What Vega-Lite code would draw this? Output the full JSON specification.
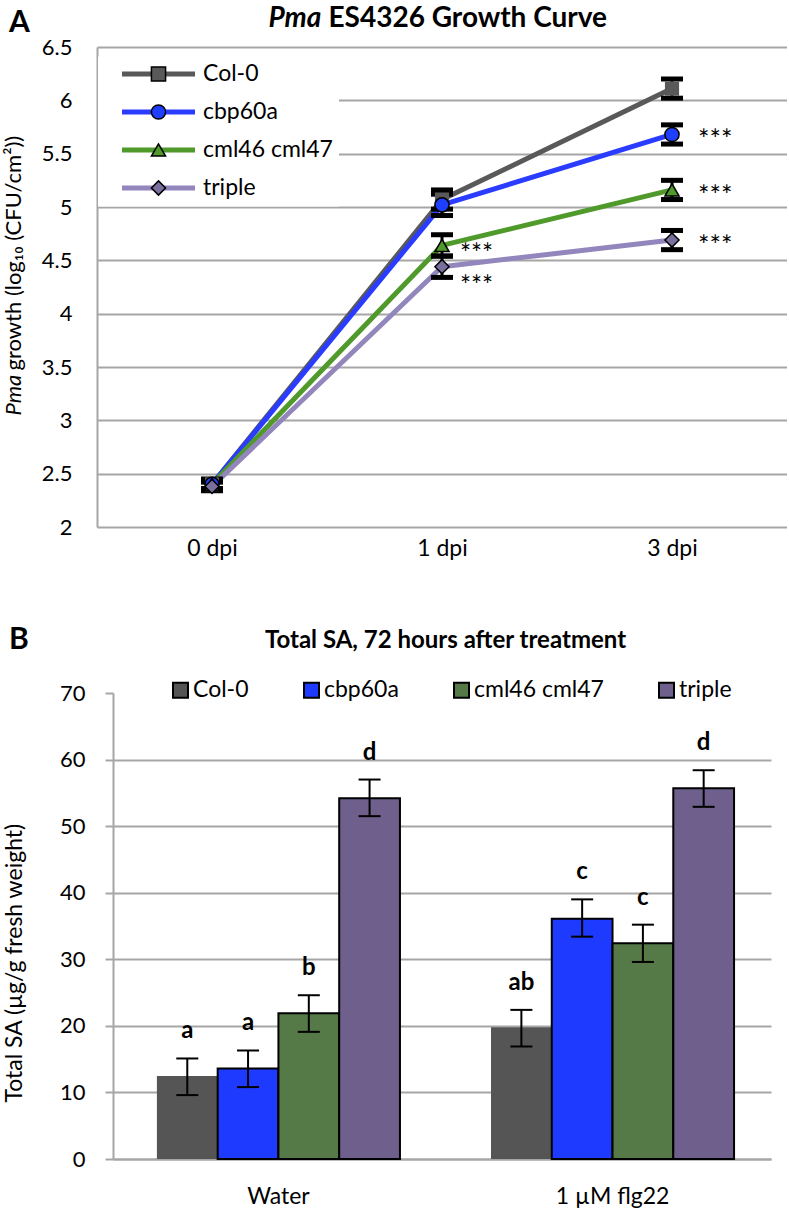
{
  "$schema": "https://vega.github.io/schema/vega-lite/v6.json",
  "background": "white",
  "padding": {"left": 2, "top": 4, "right": 0, "bottom": 0},
  "config": {
    "font": "Lato",
    "view": {"stroke": null},
    "axis": {"labelFont": "Lato", "titleFont": "Lato", "labelColor": "#000000", "titleColor": "#000000", "domainColor": "#a6a6a6", "gridColor": "#a6a6a6", "tickColor": "#a6a6a6", "domainWidth": 2, "gridWidth": 2, "tickWidth": 2},
    "legend": {"labelFont": "Lato", "labelColor": "#000000"},
    "title": {"font": "Lato", "color": "#000000"}
  },
  "datasets": {
    "growth": [
      {"genotype": "Col-0", "dpi": "0 dpi", "mean": 2.40, "lo": 2.35, "hi": 2.45, "sig": ""},
      {"genotype": "Col-0", "dpi": "1 dpi", "mean": 5.07, "lo": 4.98, "hi": 5.16, "sig": ""},
      {"genotype": "Col-0", "dpi": "3 dpi", "mean": 6.11, "lo": 6.02, "hi": 6.20, "sig": ""},
      {"genotype": "cbp60a", "dpi": "0 dpi", "mean": 2.40, "lo": 2.36, "hi": 2.44, "sig": ""},
      {"genotype": "cbp60a", "dpi": "1 dpi", "mean": 5.02, "lo": 4.92, "hi": 5.12, "sig": ""},
      {"genotype": "cbp60a", "dpi": "3 dpi", "mean": 5.68, "lo": 5.59, "hi": 5.77, "sig": "***"},
      {"genotype": "cml46 cml47", "dpi": "0 dpi", "mean": 2.40, "lo": 2.36, "hi": 2.44, "sig": ""},
      {"genotype": "cml46 cml47", "dpi": "1 dpi", "mean": 4.64, "lo": 4.54, "hi": 4.74, "sig": "***"},
      {"genotype": "cml46 cml47", "dpi": "3 dpi", "mean": 5.16, "lo": 5.07, "hi": 5.25, "sig": "***"},
      {"genotype": "triple", "dpi": "0 dpi", "mean": 2.38, "lo": 2.34, "hi": 2.42, "sig": ""},
      {"genotype": "triple", "dpi": "1 dpi", "mean": 4.44, "lo": 4.34, "hi": 4.54, "sig": "***"},
      {"genotype": "triple", "dpi": "3 dpi", "mean": 4.69, "lo": 4.60, "hi": 4.78, "sig": "***"}
    ],
    "sa": [
      {"treatment": "Water", "genotype": "Col-0", "mean": 12.45, "lo": 9.6, "hi": 15.1, "letter": "a"},
      {"treatment": "Water", "genotype": "cbp60a", "mean": 13.6, "lo": 10.8, "hi": 16.3, "letter": "a"},
      {"treatment": "Water", "genotype": "cml46 cml47", "mean": 21.9, "lo": 19.1, "hi": 24.6, "letter": "b"},
      {"treatment": "Water", "genotype": "triple", "mean": 54.2, "lo": 51.5, "hi": 57.0, "letter": "d"},
      {"treatment": "1 µM flg22", "genotype": "Col-0", "mean": 19.8, "lo": 16.9, "hi": 22.4, "letter": "ab"},
      {"treatment": "1 µM flg22", "genotype": "cbp60a", "mean": 36.1, "lo": 33.4, "hi": 39.0, "letter": "c"},
      {"treatment": "1 µM flg22", "genotype": "cml46 cml47", "mean": 32.4, "lo": 29.6, "hi": 35.2, "letter": "c"},
      {"treatment": "1 µM flg22", "genotype": "triple", "mean": 55.7, "lo": 52.9, "hi": 58.4, "letter": "d"}
    ]
  },
  "resolve": {"scale": {"color": "independent", "fill": "independent", "shape": "independent"}, "legend": {"color": "independent", "fill": "independent", "shape": "independent"}},
  "bounds": "flush",
  "center": true,
  "spacing": 166,
  "vconcat": [
    {
      "title": {"text": "A", "anchor": "start", "frame": "bounds", "fontSize": 30, "fontWeight": "bold", "offset": -34, "dx": 7},
      "width": 690,
      "height": 480,
      "data": {"name": "growth"},
      "layer": [
        {
          "mark": {"type": "line", "strokeWidth": 5, "strokeJoin": "round"},
          "encoding": {
            "x": {"field": "dpi", "type": "nominal", "sort": ["0 dpi", "1 dpi", "3 dpi"], "scale": {"type": "point", "padding": 0.5},
              "axis": {"orient": "bottom", "labelAngle": 0, "labelFontSize": 23, "labelPadding": 10, "ticks": false, "domain": false, "grid": false,
                "title": "ES4326 Growth Curve", "titleFontSize": 28, "titleFontWeight": "bold", "titleAlign": "left", "titleBaseline": "middle", "titleX": 231, "titleY": -509}},
            "y": {"field": "mean", "type": "quantitative", "scale": {"domain": [2, 6.5], "nice": false, "zero": false},
              "axis": {"orient": "left", "values": [2, 2.5, 3, 3.5, 4, 4.5, 5, 5.5, 6, 6.5], "format": "~g", "labelFontSize": 22, "labelPadding": 25, "ticks": false, "domain": true, "grid": true,
                "title": "growth (log₁₀ (CFU/cm²))", "titleFontSize": 22, "titleFontWeight": "normal", "titleAngle": 270, "titleAlign": "left", "titleBaseline": "middle", "titleX": -84, "titleY": 323}},
            "color": {"field": "genotype", "type": "nominal",
              "scale": {"domain": ["Col-0", "cbp60a", "cml46 cml47", "triple"], "range": ["#595959", "#2a3cff", "#4f9a2b", "#9386bd"]},
              "legend": {"orient": "none", "legendX": 1, "legendY": 9.5, "direction": "vertical", "title": null, "symbolType": "M-7.3,0H7.3", "symbolSize": 100, "symbolStrokeWidth": 5, "symbolOffset": 43, "labelOffset": 33, "labelFontSize": 23, "rowPadding": 14, "padding": 6, "fillColor": "white"}}
          }
        },
        {
          "mark": {"type": "rule", "color": "black", "strokeWidth": 3},
          "encoding": {
            "x": {"field": "dpi", "type": "nominal", "sort": ["0 dpi", "1 dpi", "3 dpi"],
              "axis": {"orient": "top", "labels": false, "ticks": false, "domain": false, "grid": false, "title": "Pma", "titleFontSize": 28, "titleFontWeight": "bold", "titleFontStyle": "italic", "titleAlign": "left", "titleBaseline": "middle", "titleX": 171, "titleY": -29}},
            "y": {"field": "lo", "type": "quantitative", "scale": {"domain": [2, 6.5], "nice": false, "zero": false},
              "axis": {"orient": "right", "labels": false, "ticks": false, "domain": false, "grid": false, "title": "Pma", "titleFontSize": 22, "titleFontWeight": "normal", "titleFontStyle": "italic", "titleAngle": 270, "titleAlign": "left", "titleBaseline": "middle", "titleX": -774, "titleY": 368}},
            "y2": {"field": "hi"},
            "detail": {"field": "genotype"}
          }
        },
        {
          "mark": {"type": "tick", "color": "black", "size": 22, "thickness": 5, "opacity": 1},
          "encoding": {
            "x": {"field": "dpi", "type": "nominal", "sort": ["0 dpi", "1 dpi", "3 dpi"], "axis": null},
            "y": {"field": "lo", "type": "quantitative", "scale": {"domain": [2, 6.5], "nice": false, "zero": false}, "axis": null}
          }
        },
        {
          "mark": {"type": "tick", "color": "black", "size": 22, "thickness": 5, "opacity": 1},
          "encoding": {
            "x": {"field": "dpi", "type": "nominal", "sort": ["0 dpi", "1 dpi", "3 dpi"], "axis": null},
            "y": {"field": "hi", "type": "quantitative", "scale": {"domain": [2, 6.5], "nice": false, "zero": false}, "axis": null}
          }
        },
        {
          "mark": {"type": "point", "filled": true, "size": 200, "opacity": 1, "strokeWidth": 1.5},
          "encoding": {
            "x": {"field": "dpi", "type": "nominal", "sort": ["0 dpi", "1 dpi", "3 dpi"], "axis": null},
            "y": {"field": "mean", "type": "quantitative", "scale": {"domain": [2, 6.5], "nice": false, "zero": false}, "axis": null},
            "shape": {"field": "genotype", "type": "nominal", "scale": {"range": ["square", "circle", "triangle-up", "diamond"]},
              "legend": {"orient": "none", "legendX": 1, "legendY": 9.5, "direction": "vertical", "title": null, "symbolSize": 200, "symbolStrokeWidth": 1.5, "symbolOffset": 43, "labelOffset": 33, "labelFontSize": 23, "labelColor": "transparent", "rowPadding": 14, "padding": 6,
                "encode": {"symbols": {"update": {"stroke": [{"test": "datum.label === 'Col-0'", "value": "transparent"}, {"value": "black"}], "strokeWidth": {"value": 1.5}}}}}},
            "fill": {"field": "genotype", "type": "nominal", "scale": {"range": ["#595959", "#1f3fff", "#4f9a2b", "#7b6f9e"]},
              "legend": {"orient": "none", "legendX": 1, "legendY": 9.5, "direction": "vertical", "title": null, "symbolSize": 200, "symbolStrokeWidth": 1.5, "symbolOffset": 43, "labelOffset": 33, "labelFontSize": 23, "labelColor": "transparent", "rowPadding": 14, "padding": 6,
                "encode": {"symbols": {"update": {"stroke": [{"test": "datum.label === 'Col-0'", "value": "transparent"}, {"value": "black"}], "strokeWidth": {"value": 1.5}}}}}},
            "stroke": {"condition": {"test": "datum.genotype === 'Col-0'", "value": "transparent"}, "value": "black"}
          }
        },
        {
          "transform": [{"filter": "datum.sig !== '' && datum.dpi === '3 dpi'"}],
          "mark": {"type": "text", "align": "left", "baseline": "middle", "dx": 26, "dy": 7, "fontSize": 27, "color": "black"},
          "encoding": {
            "x": {"field": "dpi", "type": "nominal", "sort": ["0 dpi", "1 dpi", "3 dpi"], "axis": null},
            "y": {"field": "mean", "type": "quantitative", "scale": {"domain": [2, 6.5], "nice": false, "zero": false}, "axis": null},
            "text": {"field": "sig"}
          }
        },
        {
          "transform": [{"filter": "datum.sig !== '' && datum.dpi === '1 dpi' && datum.genotype === 'cml46 cml47'"}],
          "mark": {"type": "text", "align": "left", "baseline": "middle", "dx": 18, "dy": 10, "fontSize": 26, "color": "black"},
          "encoding": {
            "x": {"field": "dpi", "type": "nominal", "sort": ["0 dpi", "1 dpi", "3 dpi"], "axis": null},
            "y": {"field": "mean", "type": "quantitative", "scale": {"domain": [2, 6.5], "nice": false, "zero": false}, "axis": null},
            "text": {"field": "sig"}
          }
        },
        {
          "transform": [{"filter": "datum.sig !== '' && datum.dpi === '1 dpi' && datum.genotype === 'triple'"}],
          "mark": {"type": "text", "align": "left", "baseline": "middle", "dx": 18, "dy": 20, "fontSize": 26, "color": "black"},
          "encoding": {
            "x": {"field": "dpi", "type": "nominal", "sort": ["0 dpi", "1 dpi", "3 dpi"], "axis": null},
            "y": {"field": "mean", "type": "quantitative", "scale": {"domain": [2, 6.5], "nice": false, "zero": false}, "axis": null},
            "text": {"field": "sig"}
          }
        }
      ]
    },
    {
      "title": {"text": "B", "anchor": "start", "frame": "bounds", "fontSize": 30, "fontWeight": "bold", "offset": -27, "dx": 6},
      "width": 658,
      "height": 466,
      "data": {"name": "sa"},
      "layer": [
        {
          "mark": {"type": "bar", "strokeWidth": 2},
          "encoding": {
            "x": {"field": "treatment", "type": "nominal", "sort": ["Water", "1 µM flg22"], "scale": {"paddingInner": 0.2725, "paddingOuter": 0.121, "align": 0.543},
              "axis": {"orient": "bottom", "labelAngle": 0, "labelFontSize": 23, "labelPadding": 26, "ticks": false, "domain": true, "grid": false,
                "title": "Total SA, 72 hours after treatment", "titleFontSize": 24, "titleFontWeight": "bold", "titleAlign": "center", "titleBaseline": "middle", "titleX": 332, "titleY": -519}},
            "xOffset": {"field": "genotype", "type": "nominal", "sort": ["Col-0", "cbp60a", "cml46 cml47", "triple"], "scale": {"paddingInner": 0, "paddingOuter": 0}},
            "y": {"field": "mean", "type": "quantitative", "scale": {"domain": [0, 70], "nice": false},
              "axis": {"orient": "left", "values": [0, 10, 20, 30, 40, 50, 60, 70], "labelFontSize": 22, "labelPadding": 20, "tickSize": 8, "ticks": true, "domain": true, "grid": false,
                "title": "Total SA (µg/g fresh weight)", "titleFontSize": 23, "titleFontWeight": "normal", "titleAngle": 270, "titleAlign": "left", "titleBaseline": "middle", "titleX": -99, "titleY": 409}},
            "fill": {"field": "genotype", "type": "nominal",
              "scale": {"domain": ["Col-0", "cbp60a", "cml46 cml47", "triple"], "range": ["#555555", "#1f3aff", "#557a47", "#6e5f8c"]},
              "legend": {"orient": "none", "direction": "horizontal", "legendX": 56, "legendY": -14.5, "title": null, "symbolType": "square", "symbolSize": 225, "symbolStrokeWidth": 2, "labelOffset": 1, "labelFontSize": 23, "columnPadding": 51, "padding": 0,
                "encode": {"symbols": {"update": {"stroke": [{"test": "datum.label === 'Col-0'", "value": "transparent"}, {"value": "black"}], "strokeWidth": {"value": 2}}}}}},
            "stroke": {"condition": {"test": "datum.genotype === 'Col-0'", "value": "transparent"}, "value": "black"}
          }
        },
        {
          "mark": {"type": "rule", "color": "black", "strokeWidth": 2},
          "encoding": {
            "x": {"field": "treatment", "type": "nominal", "sort": ["Water", "1 µM flg22"],
              "axis": {"orient": "top", "labels": false, "ticks": false, "domain": false, "grid": false, "title": null}},
            "xOffset": {"field": "genotype", "type": "nominal", "sort": ["Col-0", "cbp60a", "cml46 cml47", "triple"]},
            "y": {"field": "lo", "type": "quantitative", "scale": {"domain": [0, 70], "nice": false},
              "axis": {"orient": "right", "values": [0, 10, 20, 30, 40, 50, 60], "labels": false, "ticks": false, "domain": false, "grid": true, "title": null}},
            "y2": {"field": "hi"}
          }
        },
        {
          "mark": {"type": "tick", "color": "black", "size": 22, "thickness": 2, "opacity": 1},
          "encoding": {
            "x": {"field": "treatment", "type": "nominal", "sort": ["Water", "1 µM flg22"], "axis": null},
            "xOffset": {"field": "genotype", "type": "nominal", "sort": ["Col-0", "cbp60a", "cml46 cml47", "triple"]},
            "y": {"field": "lo", "type": "quantitative", "scale": {"domain": [0, 70], "nice": false}, "axis": null}
          }
        },
        {
          "mark": {"type": "tick", "color": "black", "size": 22, "thickness": 2, "opacity": 1},
          "encoding": {
            "x": {"field": "treatment", "type": "nominal", "sort": ["Water", "1 µM flg22"], "axis": null},
            "xOffset": {"field": "genotype", "type": "nominal", "sort": ["Col-0", "cbp60a", "cml46 cml47", "triple"]},
            "y": {"field": "hi", "type": "quantitative", "scale": {"domain": [0, 70], "nice": false}, "axis": null}
          }
        },
        {
          "mark": {"type": "text", "fontSize": 24, "fontWeight": "bold", "baseline": "alphabetic", "dy": -20, "color": "black"},
          "encoding": {
            "x": {"field": "treatment", "type": "nominal", "sort": ["Water", "1 µM flg22"], "axis": null},
            "xOffset": {"field": "genotype", "type": "nominal", "sort": ["Col-0", "cbp60a", "cml46 cml47", "triple"]},
            "y": {"field": "hi", "type": "quantitative", "scale": {"domain": [0, 70], "nice": false}, "axis": null},
            "text": {"field": "letter"}
          }
        }
      ]
    }
  ]
}
